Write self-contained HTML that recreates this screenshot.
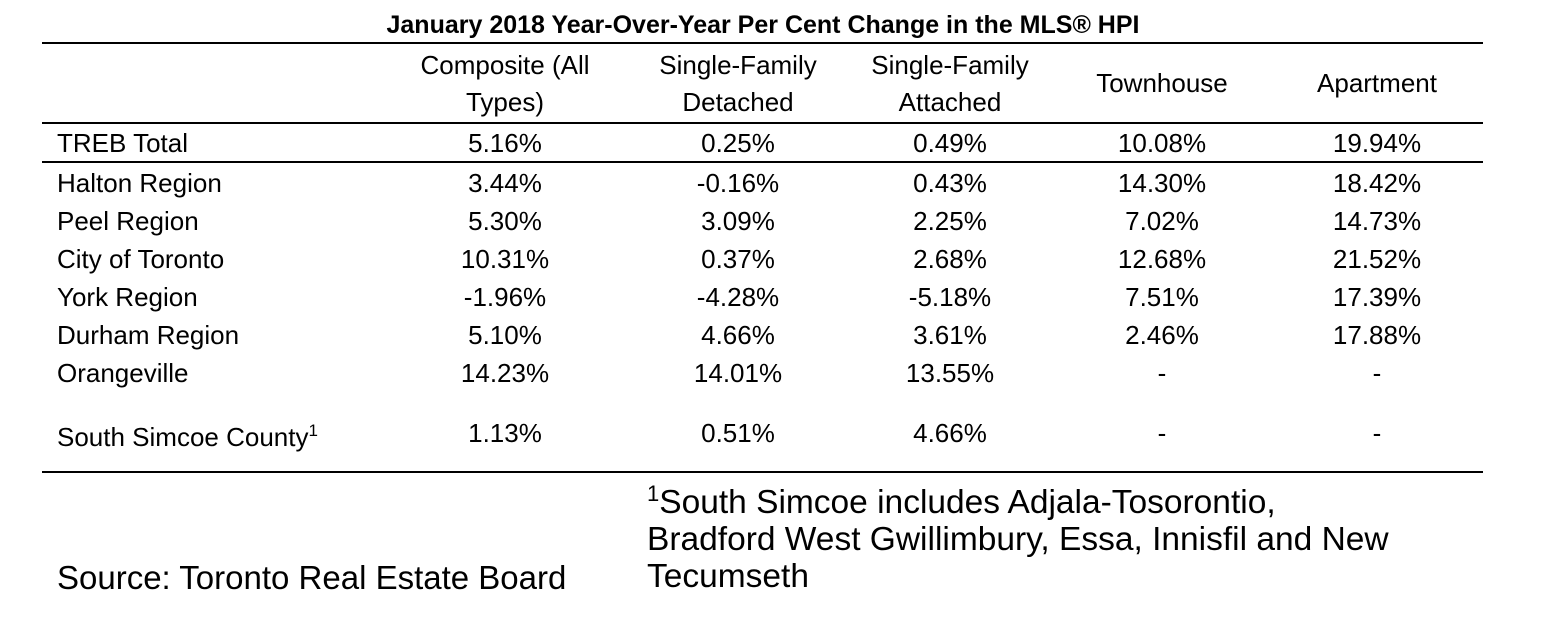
<!DOCTYPE html>
<html><head><meta charset="utf-8"><style>
body{margin:0;width:1552px;height:638px;background:#fff;position:relative;overflow:hidden;font-family:"Liberation Sans",sans-serif;color:#000}
.t{position:absolute;white-space:nowrap;font-size:26px;line-height:26px}
.c{position:absolute;white-space:nowrap;font-size:26px;line-height:26px;width:200px;text-align:center}
.l{position:absolute;left:42px;width:1441px;height:2px;background:#000}
</style></head><body>
<div class="t" style="left:0;width:1526px;text-align:center;top:12px;font-weight:bold;font-size:25px">January 2018 Year-Over-Year Per Cent Change in the MLS® HPI</div>
<div class="l" style="top:42px"></div>
<div class="c" style="left:405px;top:47px;line-height:37px">Composite (All<br>Types)</div>
<div class="c" style="left:638px;top:47px;line-height:37px">Single-Family<br>Detached</div>
<div class="c" style="left:850px;top:47px;line-height:37px">Single-Family<br>Attached</div>
<div class="c" style="left:1062px;top:70px">Townhouse</div>
<div class="c" style="left:1277px;top:70px">Apartment</div>
<div class="l" style="top:122px"></div>
<div class="t" style="left:57px;top:130px">TREB Total</div>
<div class="c" style="left:405px;top:130px">5.16%</div><div class="c" style="left:638px;top:130px">0.25%</div><div class="c" style="left:850px;top:130px">0.49%</div><div class="c" style="left:1062px;top:130px">10.08%</div><div class="c" style="left:1277px;top:130px">19.94%</div>
<div class="l" style="top:161px"></div>
<div class="t" style="left:57px;top:170px">Halton Region</div>
<div class="c" style="left:405px;top:170px">3.44%</div><div class="c" style="left:638px;top:170px">-0.16%</div><div class="c" style="left:850px;top:170px">0.43%</div><div class="c" style="left:1062px;top:170px">14.30%</div><div class="c" style="left:1277px;top:170px">18.42%</div>
<div class="t" style="left:57px;top:208px">Peel Region</div>
<div class="c" style="left:405px;top:208px">5.30%</div><div class="c" style="left:638px;top:208px">3.09%</div><div class="c" style="left:850px;top:208px">2.25%</div><div class="c" style="left:1062px;top:208px">7.02%</div><div class="c" style="left:1277px;top:208px">14.73%</div>
<div class="t" style="left:57px;top:246px">City of Toronto</div>
<div class="c" style="left:405px;top:246px">10.31%</div><div class="c" style="left:638px;top:246px">0.37%</div><div class="c" style="left:850px;top:246px">2.68%</div><div class="c" style="left:1062px;top:246px">12.68%</div><div class="c" style="left:1277px;top:246px">21.52%</div>
<div class="t" style="left:57px;top:284px">York Region</div>
<div class="c" style="left:405px;top:284px">-1.96%</div><div class="c" style="left:638px;top:284px">-4.28%</div><div class="c" style="left:850px;top:284px">-5.18%</div><div class="c" style="left:1062px;top:284px">7.51%</div><div class="c" style="left:1277px;top:284px">17.39%</div>
<div class="t" style="left:57px;top:322px">Durham Region</div>
<div class="c" style="left:405px;top:322px">5.10%</div><div class="c" style="left:638px;top:322px">4.66%</div><div class="c" style="left:850px;top:322px">3.61%</div><div class="c" style="left:1062px;top:322px">2.46%</div><div class="c" style="left:1277px;top:322px">17.88%</div>
<div class="t" style="left:57px;top:360px">Orangeville</div>
<div class="c" style="left:405px;top:360px">14.23%</div><div class="c" style="left:638px;top:360px">14.01%</div><div class="c" style="left:850px;top:360px">13.55%</div><div class="c" style="left:1062px;top:360px">-</div><div class="c" style="left:1277px;top:360px">-</div>
<div class="t" style="left:57px;top:424px">South Simcoe County<sup style="font-size:17px;vertical-align:10px;line-height:0">1</sup></div>
<div class="c" style="left:405px;top:420px">1.13%</div><div class="c" style="left:638px;top:420px">0.51%</div><div class="c" style="left:850px;top:420px">4.66%</div><div class="c" style="left:1062px;top:420px">-</div><div class="c" style="left:1277px;top:420px">-</div>
<div class="l" style="top:471px"></div>
<div class="t" style="left:647px;top:484px;font-size:33.5px;line-height:37px"><sup style="font-size:22px;vertical-align:12px;line-height:0">1</sup>South Simcoe includes Adjala-Tosorontio,<br>Bradford West Gwillimbury, Essa, Innisfil and New<br>Tecumseth</div>
<div class="t" style="left:57px;top:559px;font-size:33px;line-height:37px">Source: Toronto Real Estate Board</div>
</body></html>
